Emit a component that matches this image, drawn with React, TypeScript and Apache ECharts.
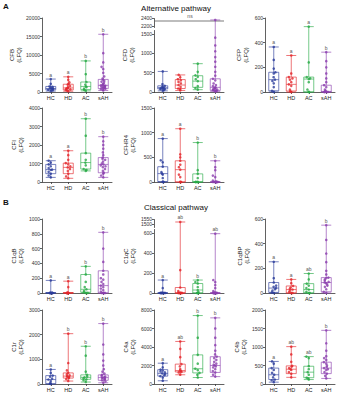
import React, { useEffect, useRef } from 'react';
import * as echarts from 'echarts';

const groups = ['HC', 'HD', 'AC', 'sAH'];
const pointColors = ['#2B3C9B', '#E3262A', '#27AA45', '#8B3FAE'];
const boxColors = ['rgba(43,60,155,0.8)', 'rgba(227,38,42,0.8)', 'rgba(39,170,69,0.8)', 'rgba(139,63,174,0.8)'];

// box stats: [min, Q1, median, Q3, max]
const cfbBox = [[250, 600, 950, 1500, 3500], [200, 550, 1100, 2100, 4100], [300, 650, 1500, 2700, 8400], [400, 900, 1800, 3400, 15600]];
const cfbPts = [
  [250, 400, 600, 700, 850, 950, 1000, 1200, 1400, 1500, 2200, 3500],
  [200, 400, 550, 700, 900, 1000, 1100, 1300, 1600, 2000, 2100, 2600, 3300, 4100],
  [300, 600, 900, 1300, 1500, 2000, 2700, 4800, 8400],
  [400, 600, 800, 900, 1000, 1100, 1200, 1300, 1400, 1500, 1600, 1700, 1800, 1900, 2000, 2200, 2500, 2800, 3000, 3300, 3600, 4200, 5200, 6200, 6800, 8000, 10500, 15600],
];
const cfbSig = ['a', 'a', 'b', 'b'];

const cfdBox = [[30, 80, 110, 160, 530], [40, 90, 180, 320, 440], [60, 120, 280, 420, 730], [10, 40, 120, 340, 2350]];
const cfdPts = [
  [30, 50, 70, 80, 90, 100, 110, 120, 140, 160, 200, 530],
  [40, 70, 90, 130, 180, 220, 260, 300, 330, 380, 440],
  [60, 100, 150, 280, 330, 390, 430, 520, 730],
  [10, 20, 30, 40, 50, 60, 70, 80, 100, 110, 120, 150, 180, 220, 300, 340, 420, 520, 650, 780, 900, 1050, 1200, 1400, 2350],
];
const cfdSig = ['', '', '', ''];

const cfpBox = [[0, 10, 100, 160, 365], [0, 8, 62, 121, 296], [0, 0, 105, 121, 530], [0, 0, 5, 55, 323]];
const cfpPts = [
  [0, 10, 40, 70, 90, 100, 120, 150, 160, 190, 260, 365],
  [0, 5, 20, 50, 62, 80, 100, 110, 121, 150, 296],
  [0, 0, 20, 80, 105, 110, 121, 240, 530],
  [0, 0, 0, 0, 5, 10, 20, 40, 55, 80, 110, 150, 200, 250, 323],
];
const cfpSig = ['a', 'a', 'a', 'b'];

const cfiBox = [[250, 450, 670, 950, 1150], [200, 450, 790, 1020, 1690], [600, 700, 1050, 1560, 3420], [250, 500, 950, 1320, 2450]];
const cfiPts = [
  [250, 350, 450, 550, 650, 670, 750, 850, 950, 1050, 1150],
  [200, 300, 450, 600, 700, 790, 850, 950, 1020, 1200, 1450, 1690],
  [600, 650, 700, 900, 1050, 1200, 1560, 2500, 3420],
  [250, 350, 450, 500, 600, 700, 800, 850, 900, 950, 1000, 1100, 1200, 1250, 1320, 1450, 1600, 1800, 2000, 2200, 2450],
];
const cfiSig = ['a', 'a', 'b', 'b'];

const cfhr4Box = [[0, 10, 170, 310, 880], [0, 0, 250, 430, 1080], [0, 0, 0, 165, 800], [0, 0, 0, 0, 430]];
const cfhr4Pts = [
  [0, 0, 10, 80, 150, 170, 200, 310, 400, 440, 880],
  [0, 0, 0, 100, 150, 250, 300, 350, 430, 500, 560, 1080],
  [0, 0, 0, 0, 80, 165, 240, 800],
  [0, 0, 0, 0, 0, 0, 0, 0, 0, 30, 100, 130, 240, 300, 430],
];
const cfhr4Sig = ['a', 'a', 'b', 'b'];

const c1qbBox = [[0, 0, 0, 5, 170], [0, 0, 0, 5, 160], [0, 10, 50, 250, 360], [0, 0, 100, 300, 820]];
const c1qbPts = [
  [0, 0, 0, 0, 0, 0, 0, 0, 170],
  [0, 0, 0, 0, 0, 0, 0, 80, 160],
  [0, 0, 10, 30, 50, 80, 150, 250, 360],
  [0, 0, 0, 0, 0, 20, 40, 60, 80, 100, 120, 150, 180, 200, 250, 300, 420, 600, 820],
];
const c1qbSig = ['a', 'a', 'b', 'b'];

const c1qcBox = [[0, 0, 0, 0, 130], [0, 0, 0, 55, 1520], [0, 0, 30, 95, 130], [0, 0, 0, 0, 595]];
const c1qcPts = [
  [0, 0, 0, 0, 0, 0, 0, 0, 50, 130],
  [0, 0, 0, 0, 0, 0, 0, 20, 55, 230, 1520],
  [0, 0, 0, 10, 30, 60, 95, 110, 130],
  [0, 0, 0, 0, 0, 0, 0, 0, 0, 0, 0, 0, 20, 50, 80, 110, 130, 595],
];
const c1qcSig = ['a', 'ab', 'b', 'ab'];

const c1qbpBox = [[0, 5, 40, 85, 253], [0, 0, 28, 57, 110], [0, 0, 28, 76, 158], [0, 10, 85, 125, 550]];
const c1qbpPts = [
  [0, 5, 20, 30, 40, 50, 60, 85, 120, 253],
  [0, 0, 10, 20, 28, 35, 45, 57, 80, 110],
  [0, 0, 10, 28, 40, 60, 76, 110, 158],
  [0, 10, 30, 50, 60, 70, 80, 85, 90, 100, 110, 120, 125, 150, 180, 250, 320, 430, 550],
];
const c1qbpSig = ['a', 'a', 'ab', 'b'];

const c1rBox = [[0, 10, 180, 340, 590], [120, 240, 320, 450, 2040], [80, 190, 270, 370, 1530], [50, 150, 260, 370, 2450]];
const c1rPts = [
  [0, 10, 50, 120, 180, 220, 300, 340, 450, 590],
  [120, 200, 240, 280, 300, 320, 350, 400, 450, 550, 850, 2040],
  [80, 150, 190, 230, 270, 300, 370, 500, 1150, 1530],
  [50, 100, 150, 180, 200, 220, 240, 260, 280, 300, 330, 370, 420, 500, 600, 750, 950, 1200, 1600, 2450],
];
const c1rSig = ['a', 'b', 'b', 'b'];

const c4aBox = [[350, 850, 1150, 1550, 2250], [1000, 1300, 1450, 2150, 4600], [700, 1200, 1650, 3150, 7400], [800, 1250, 2000, 2950, 7150]];
const c4aPts = [
  [350, 700, 850, 950, 1050, 1150, 1250, 1350, 1450, 1550, 1800, 2250],
  [1000, 1250, 1300, 1400, 1450, 1600, 1900, 2150, 2900, 3800, 4600],
  [700, 1000, 1200, 1500, 1650, 2200, 3150, 5000, 7400],
  [800, 1000, 1250, 1400, 1600, 1800, 1900, 2000, 2100, 2200, 2400, 2600, 2800, 2950, 3200, 3600, 4200, 5000, 6000, 7150],
];
const c4aSig = ['a', 'ab', 'b', 'b'];

const c4bBox = [[50, 120, 250, 430, 610], [180, 280, 400, 490, 1010], [120, 170, 320, 480, 740], [150, 280, 430, 590, 1450]];
const c4bPts = [
  [50, 100, 120, 180, 250, 300, 380, 430, 550, 610],
  [180, 280, 320, 380, 400, 430, 470, 490, 600, 800, 1010],
  [120, 150, 170, 250, 320, 400, 480, 700, 740],
  [150, 220, 280, 320, 380, 400, 430, 460, 500, 550, 590, 650, 700, 750, 900, 1100, 1450],
];
const c4bSig = ['a', 'ab', 'ab', 'b'];

const FONT = 'Liberation Sans, Arial, sans-serif';
const colLeft = [42, 154, 265];
const rowTop = [18, 108, 219, 310];
const PW = 70;
const PH = 74;

type Panel = {
  name: string; box: number[][]; pts: number[][]; sig: string[];
  max: number; interval?: number; ticks?: number[]; brk?: number[];
  col: number; row: number; gap: number;
};

const panels: Panel[] = [
  { name: 'CFB', box: cfbBox, pts: cfbPts, sig: cfbSig, max: 20000, interval: 5000, col: 0, row: 0, gap: 18 },
  { name: 'CFD', box: cfdBox, pts: cfdPts, sig: cfdSig, max: 2400, ticks: [0, 500, 1000, 1500, 2200, 2400], brk: [1600, 2150], col: 1, row: 0, gap: 19 },
  { name: 'CFP', box: cfpBox, pts: cfpPts, sig: cfpSig, max: 600, interval: 200, col: 2, row: 0, gap: 16 },
  { name: 'CFI', box: cfiBox, pts: cfiPts, sig: cfiSig, max: 4000, interval: 1000, col: 0, row: 1, gap: 16 },
  { name: 'CFHR4', box: cfhr4Box, pts: cfhr4Pts, sig: cfhr4Sig, max: 1500, interval: 500, col: 1, row: 1, gap: 15 },
  { name: 'C1qB', box: c1qbBox, pts: c1qbPts, sig: c1qbSig, max: 1000, interval: 200, col: 0, row: 2, gap: 17 },
  { name: 'C1qC', box: c1qcBox, pts: c1qcPts, sig: c1qcSig, max: 1550, ticks: [0, 200, 400, 600, 1500, 1550], brk: [640, 1470], col: 1, row: 2, gap: 18 },
  { name: 'C1qBP', box: c1qbpBox, pts: c1qbpPts, sig: c1qbpSig, max: 600, interval: 200, col: 2, row: 2, gap: 13 },
  { name: 'C1r', box: c1rBox, pts: c1rPts, sig: c1rSig, max: 3000, interval: 1000, col: 0, row: 3, gap: 18 },
  { name: 'C4a', box: c4aBox, pts: c4aPts, sig: c4aSig, max: 8000, interval: 2000, col: 1, row: 3, gap: 17 },
  { name: 'C4b', box: c4bBox, pts: c4bPts, sig: c4bSig, max: 2000, interval: 500, col: 2, row: 3, gap: 13 },
];

function buildOption() {
  const grid: any[] = [];
  const xAxis: any[] = [];
  const yAxis: any[] = [];
  const series: any[] = [];
  const axisColor = '#3a3a3a';
  panels.forEach((p, i) => {
    grid.push({ left: colLeft[p.col], top: rowTop[p.row], width: PW, height: PH });
    xAxis.push({
      type: 'category', gridIndex: i, data: groups,
      jitter: 5, jitterOverlap: false, jitterMargin: 0.2,
      axisLine: { lineStyle: { color: axisColor, width: 0.8 } },
      axisTick: { show: true, alignWithLabel: true, length: 2, lineStyle: { color: axisColor, width: 0.8 } },
      axisLabel: { fontSize: 5.5, color: '#222', margin: 3, fontFamily: FONT },
    });
    const y: any = {
      type: 'value', gridIndex: i, min: 0, max: p.max,
      name: p.name + '\n(LFQ)', nameLocation: 'middle', nameRotate: 90, nameGap: p.gap,
      nameTextStyle: { fontSize: 6, lineHeight: 7, color: '#222', fontFamily: FONT },
      splitLine: { show: false },
      axisLine: { show: true, lineStyle: { color: axisColor, width: 0.8 } },
      axisTick: { show: true, length: 2, lineStyle: { color: axisColor, width: 0.8 } },
      axisLabel: { fontSize: 5, color: '#333', margin: 2, fontFamily: FONT, formatter: (v: number) => String(v) },
    };
    if (p.interval) y.interval = p.interval;
    if (p.ticks) {
      y.axisLabel.customValues = p.ticks;
      y.axisTick.customValues = p.ticks;
    }
    if (p.brk) {
      y.breaks = [{ start: p.brk[0], end: p.brk[1], gap: '3%' }];
      y.breakArea = {
        show: true,
        itemStyle: { color: 'rgba(255,255,255,0)', borderColor: 'rgba(0,0,0,0)', borderWidth: 0 },
        zigzagAmplitude: 1, expandOnClick: false,
      };
    }
    yAxis.push(y);
    series.push({
      type: 'boxplot', xAxisIndex: i, yAxisIndex: i, boxWidth: [10, 10], z: 2,
      data: p.box.map((s, g) => ({
        value: s,
        itemStyle: { color: 'rgba(255,255,255,0)', borderColor: boxColors[g], borderWidth: 0.8 },
      })),
    });
    p.pts.forEach((arr, g) => {
      series.push({
        type: 'scatter', xAxisIndex: i, yAxisIndex: i, z: 3, symbolSize: 2.6,
        itemStyle: { color: pointColors[g] },
        data: arr.map((v) => [g, v]),
      });
    });
    series.push({
      type: 'bar', xAxisIndex: i, yAxisIndex: i, barWidth: 10, silent: true, z: 1,
      itemStyle: { color: 'rgba(0,0,0,0)' },
      label: {
        show: true, position: 'top', distance: 2, fontSize: 5, color: '#555', fontFamily: FONT,
        formatter: (q: any) => p.sig[q.dataIndex],
      },
      data: p.box.map((s) => s[4]),
    });
  });

  const graphic: any[] = [
    { type: 'text', x: 3, y: 2, style: { text: 'A', font: 'bold 8px ' + FONT, fill: '#111' } },
    { type: 'text', x: 3, y: 198, style: { text: 'B', font: 'bold 8px ' + FONT, fill: '#111' } },
    { type: 'text', x: 176, y: 4, style: { text: 'Alternative pathway', font: '8px ' + FONT, fill: '#111', textAlign: 'center' } },
    { type: 'text', x: 176, y: 203, style: { text: 'Classical pathway', font: '8px ' + FONT, fill: '#111', textAlign: 'center' } },
    { type: 'line', shape: { x1: 155, y1: 21, x2: 224, y2: 21 }, style: { stroke: '#444', lineWidth: 0.7 } },
    { type: 'text', x: 190, y: 13, style: { text: 'ns', font: '5px ' + FONT, fill: '#555', textAlign: 'center' } },
  ];

  return { animation: false, backgroundColor: '#fff', grid, xAxis, yAxis, series, graphic };
}

export default function App() {
  const ref = useRef<HTMLDivElement>(null);
  useEffect(() => {
    document.body.style.margin = '0';
    const chart = echarts.init(ref.current!, undefined, { renderer: 'svg' });
    chart.setOption(buildOption() as any);
    return () => chart.dispose();
  }, []);
  return <div ref={ref} style={{ width: 356, height: 400 }} />;
}
